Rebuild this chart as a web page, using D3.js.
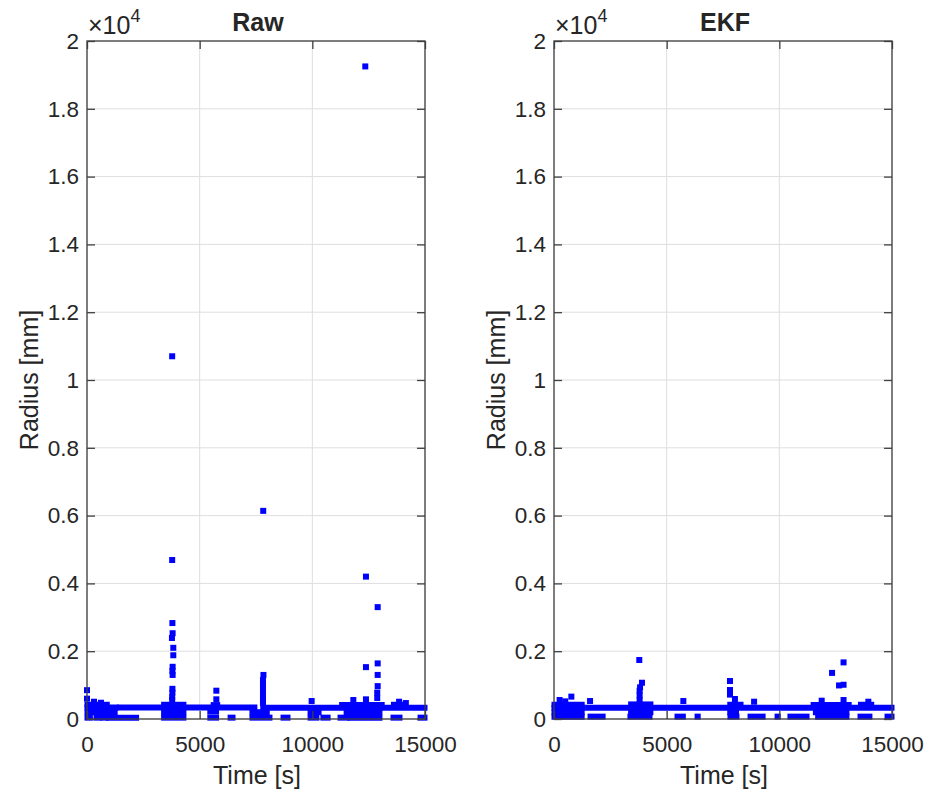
<!DOCTYPE html>
<html lang="en">
<head>
  <meta charset="utf-8" />
  <title>Raw vs EKF radius</title>
  <script src="https://cdn.jsdelivr.net/npm/d3@7"></script>
  <style>
    body { margin: 0; background: #fff; }
    text { font-family: "Liberation Sans", Arial, Helvetica, sans-serif; fill: #262626; }
    .grid line { stroke: #dedede; stroke-width: 1px; }
    .frame { fill: none; stroke: #404040; stroke-width: 1.3px; }
    .tick line { stroke: #404040; stroke-width: 1.3px; }
    .band { stroke: #0000ff; stroke-width: 6px; stroke-linecap: square; fill: none; }
    .pt { fill: #0000ff; }
  </style>
</head>
<body>
<script>
  var w = 929;
  var h = 796;

  var xTicks = [0, 5000, 10000, 15000];
  var yTicks = [0, 2000, 4000, 6000, 8000, 10000, 12000, 14000, 16000, 18000, 20000];
  var titles = ["Raw", "EKF"];

  // horizontal runs of dense markers: [t start, t end, radius]
  var rawRows = [
    [0, 1300, 340], [1450, 7450, 340], [7800, 15000, 330],
    [0, 900, 420], [3400, 4300, 420], [11300, 13100, 410], [13600, 14100, 420], [5600, 5800, 410],
    [0, 1250, 200], [3400, 4300, 200], [11500, 13000, 200], [5450, 5750, 220], [9900, 10300, 200], [7320, 8000, 200],
    [0, 150, 40], [400, 550, 40], [700, 850, 40], [950, 2200, 40], [3400, 4300, 40], [5450, 5750, 40],
    [6350, 6480, 40], [7320, 8120, 40], [8700, 8920, 40], [9900, 10200, 40], [10470, 10700, 40],
    [11230, 11540, 40], [11670, 13000, 40], [13580, 13890, 40], [14780, 15000, 40]
  ];

  var rawPoints = [
    [0, 850], [310, 510], [0, 600], [620, 480],
    [3780, 10700], [3780, 4690], [3790, 2830], [3800, 2530], [3770, 2390], [3830, 2100], [3830, 1880],
    [3800, 1540], [3790, 1420], [3800, 1300], [3790, 890], [3790, 780], [3780, 650], [3780, 560],
    [5740, 835], [5740, 580],
    [7820, 6140], [7830, 1300], [7810, 1150], [7810, 1000], [7810, 860], [7810, 720], [7810, 580], [7810, 470],
    [9970, 530],
    [12350, 19250], [12380, 4200], [12380, 1530], [12900, 3300], [12900, 1640], [12900, 1300], [12900, 970],
    [12880, 780], [12880, 620], [12380, 580], [11820, 560], [13850, 510], [14150, 470]
  ];

  var ekfRows = [
    [0, 1300, 330], [1500, 15000, 330],
    [0, 1250, 420], [3400, 4300, 430], [11500, 13100, 410], [13600, 14100, 420], [7800, 8300, 420],
    [0, 1250, 200], [3400, 4300, 200], [11600, 13000, 200], [7800, 8100, 200],
    [0, 1250, 70], [1600, 2180, 70], [3370, 4260, 70], [5460, 5740, 70], [6350, 6400, 70], [7810, 8120, 70],
    [8700, 9280, 70], [9900, 9950, 70], [10470, 11230, 70], [11700, 13000, 70], [13580, 14020, 70], [14780, 15000, 70]
  ];

  var ekfPoints = [
    [770, 660], [250, 560], [500, 520], [1600, 530],
    [3785, 1740], [3905, 1070], [3820, 935], [3800, 835], [3800, 700], [3800, 560],
    [5740, 530],
    [7810, 1120], [7810, 855], [7810, 720], [8030, 590], [8880, 510],
    [12340, 1360], [12850, 1670], [12650, 990], [12850, 1010], [12850, 560], [11880, 540], [13950, 510]
  ];

  var panels = [
    { left: 87, rows: rawRows, points: rawPoints },
    { left: 554, rows: ekfRows, points: ekfPoints }
  ];

  var plotTop = 41, plotBottom = 719, pw = 338;
  var ph = plotBottom - plotTop;

  var svg = d3.select("body").append("svg")
    .attr("width", w)
    .attr("height", h);

  svg.append("rect").attr("width", w).attr("height", h).attr("fill", "#fff");

  panels.forEach(function(p, i) {
    var xScale = d3.scaleLinear().domain([0, 15000]).range([0, pw]);
    var yScale = d3.scaleLinear().domain([0, 20000]).range([ph, 0]);
    var g = svg.append("g").attr("transform", "translate(" + p.left + "," + plotTop + ")");

    // grid
    var grid = g.append("g").attr("class", "grid");
    grid.selectAll(".gx").data(xTicks).enter().append("line")
      .attr("x1", function(d) { return xScale(d); })
      .attr("x2", function(d) { return xScale(d); })
      .attr("y1", 0).attr("y2", ph);
    grid.selectAll(".gy").data(yTicks).enter().append("line")
      .attr("y1", function(d) { return yScale(d); })
      .attr("y2", function(d) { return yScale(d); })
      .attr("x1", 0).attr("x2", pw);

    // data
    var plot = g.append("g");
    plot.selectAll(".band").data(p.rows).enter().append("line")
      .attr("class", "band")
      .attr("x1", function(d) { return xScale(d[0]) + 0.5; })
      .attr("x2", function(d) { return Math.max(xScale(d[1]) - 0.5, xScale(d[0]) + 0.5); })
      .attr("y1", function(d) { return yScale(d[2]); })
      .attr("y2", function(d) { return yScale(d[2]); });
    plot.selectAll(".pt").data(p.points).enter().append("rect")
      .attr("class", "pt")
      .attr("x", function(d) { return xScale(d[0]) - 3; })
      .attr("y", function(d) { return yScale(d[1]) - 3; })
      .attr("width", 6).attr("height", 6);

    // axes
    var xAxis = d3.axisBottom(xScale).tickValues(xTicks).tickSize(-8).tickPadding(17)
      .tickFormat(d3.format("d"));
    var yAxis = d3.axisLeft(yScale).tickValues(yTicks).tickSize(-8).tickPadding(8)
      .tickFormat(function(d) { return d3.format("~g")(d / 10000); });

    g.append("g").attr("transform", "translate(0," + ph + ")").call(xAxis);
    g.append("g").call(yAxis);
    g.append("g").call(d3.axisTop(xScale).tickValues(xTicks).tickSize(-8).tickFormat(""));
    g.append("g").attr("transform", "translate(" + pw + ",0)")
      .call(d3.axisRight(yScale).tickValues(yTicks).tickSize(-8).tickFormat(""));
    g.selectAll(".domain").remove();
    g.selectAll(".tick text").style("font-size", "22.5px").style("fill", "#262626")
      .style("font-family", "'Liberation Sans', Arial, sans-serif");

    g.append("rect").attr("class", "frame")
      .attr("width", pw).attr("height", ph);

    // exponent
    var ex = g.append("text").attr("x", 1).attr("y", -7).style("font-size", "25px");
    ex.append("tspan").text("\u00d710");
    ex.append("tspan").attr("dy", -12).style("font-size", "18px").text("4");

    // title
    g.append("text").attr("x", pw / 2 + 2).attr("y", -10)
      .attr("text-anchor", "middle").style("font-size", "25px").style("font-weight", "bold")
      .text(titles[i]);

    // labels
    g.append("text").attr("x", pw / 2 + 1).attr("y", ph + 65)
      .attr("text-anchor", "middle").style("font-size", "25px").text("Time [s]");
    g.append("text")
      .attr("transform", "translate(-49," + (ph / 2) + ") rotate(-90)")
      .attr("text-anchor", "middle").style("font-size", "25px").text("Radius [mm]");
  });
</script>
</body>
</html>
